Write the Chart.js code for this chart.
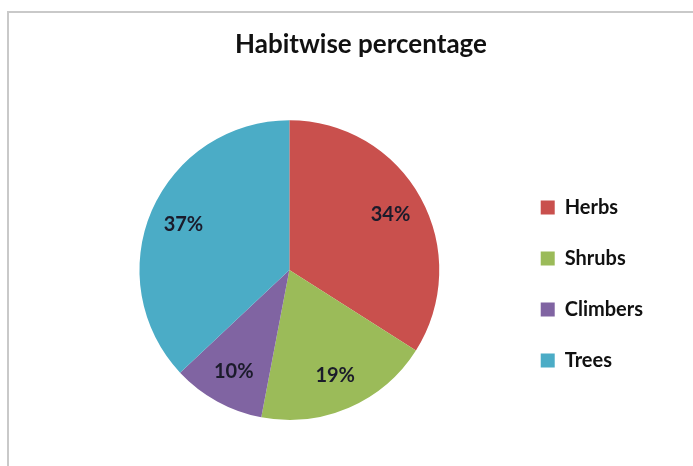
<!DOCTYPE html>
<html>
<head>
<meta charset="utf-8">
<script src="https://cdn.jsdelivr.net/npm/chart.js@4/dist/chart.umd.min.js"></script>
<style>
  html, body { margin: 0; padding: 0; background: #fff; overflow: hidden; }
  #wrap { position: relative; width: 693px; height: 466px; }
  #frame {
    position: absolute; left: 7px; top: 11px; width: 720px; height: 500px;
    border-left: 2px solid #c9c9c9; border-top: 2px solid #c9c9c9;
  }
  #chart { position: absolute; left: 0; top: 0; }
</style>
</head>
<body>
<div id="wrap">
  <div id="frame"></div>
  <canvas id="chart" width="693" height="466"></canvas>
</div>
<script>
(function () {
  'use strict';

  var habits = ['Herbs', 'Shrubs', 'Climbers', 'Trees'];
  var shares = [34, 19, 10, 37];
  var sliceColors = ['#C9504D', '#9BBB59', '#8064A2', '#4BACC6'];

  // percentage text inside each slice
  var sliceLabels = {
    id: 'sliceLabels',
    afterDatasetsDraw: function (chart) {
      var ctx = chart.ctx;
      var meta = chart.getDatasetMeta(0);
      ctx.save();
      ctx.font = 'bold 20px Lato';
      ctx.fillStyle = '#1b1b2b';
      ctx.textAlign = 'center';
      ctx.textBaseline = 'middle';
      meta.data.forEach(function (arc, i) {
        var p = arc.getProps(['x', 'y', 'startAngle', 'endAngle', 'outerRadius'], true);
        var mid = (p.startAngle + p.endAngle) / 2;
        var r = p.outerRadius * 0.77;
        ctx.fillText(shares[i] + '%', p.x + Math.cos(mid) * r, p.y + Math.sin(mid) * r);
      });
      ctx.restore();
    }
  };

  var pieChartCanvas = document.getElementById('chart').getContext('2d');
  var pieChart = new Chart(pieChartCanvas, {
    type: 'pie',
    data: {
      labels: habits,
      datasets: [{
        data: shares,
        backgroundColor: sliceColors,
        borderWidth: 0
      }]
    },
    options: {
      responsive: false,
      animation: false,
      layout: { padding: { left: 69, right: 40, top: 0, bottom: 46 } },
      plugins: {
        title: {
          display: true,
          text: 'Habitwise percentage',
          color: '#111',
          font: { family: 'Lato', size: 26, weight: 'bold' },
          padding: { top: 29, bottom: 60 }
        },
        legend: {
          position: 'right',
          align: 'start',
          // empty title just pushes the items down
          title: { display: true, text: '', font: { size: 12 }, padding: { top: 152, bottom: 0 } },
          labels: {
            boxWidth: 14,
            boxHeight: 14,
            padding: 31,
            color: '#111',
            font: { family: 'Lato', size: 20, weight: 'bold' }
          }
        },
        tooltip: { enabled: false }
      }
    },
    plugins: [sliceLabels]
  });
})();
</script>
</body>
</html>
